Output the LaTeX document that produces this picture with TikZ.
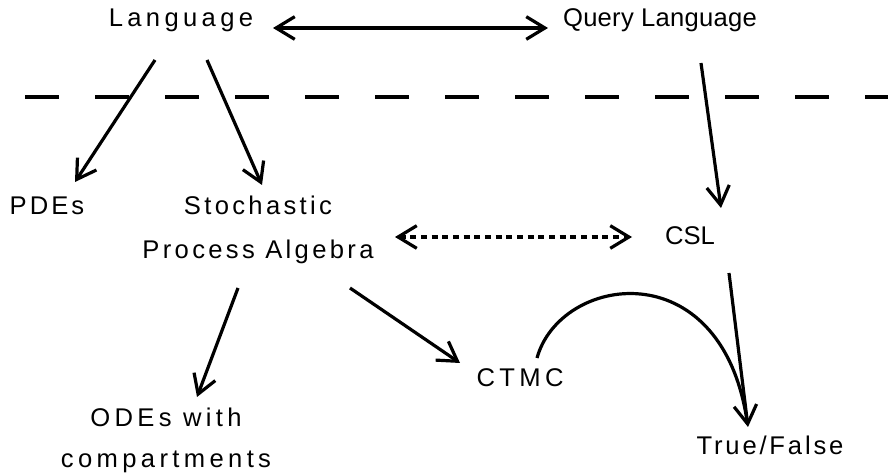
\documentclass[tikz,border=0pt]{standalone}
\usepackage{fontspec}
\setmainfont{Liberation Sans}
\usepackage{tikz}
\usetikzlibrary{arrows.meta,calc}

\tikzset{
    txt/.style={font=\fontsize{19.2}{33}\selectfont\addfontfeature{LetterSpace=#1}, inner sep=0pt, anchor=base, align=center},
    txt/.default=0,
    arr/.style={line width=2.4pt, -{Straight Barb[length=14pt,width=17pt]}},
    twoarr/.style={line width=2.4pt, {Straight Barb[length=14pt,width=17pt]}-{Straight Barb[length=14pt,width=17pt]}}
}

\begin{document}
\begin{tikzpicture}[x=0.75pt,y=-0.75pt]
        \useasboundingbox (0,0) rectangle (888,473);
        % nodes (base = last line)
        \node[txt=17] (lang) at (181,27) {Language};
        \node[txt=1] (query) at (660,27) {Query Language};
        \node[txt=12] (pdes) at (47,215) {PDEs};
        \node[txt=13] (spa) at (258,259) {Stochastic\\Process Algebra};
        \node[txt=0] (csl) at (690,245) {CSL};
        \node[txt=17] (ctmc) at (520,387) {CTMC};
        \node[txt=17] (odes) at (166,467) {ODEs with\\[-2.25pt]compartments};
        \node[txt=11] (tf) at (770,455) {True/False};
        % separator
        \draw[-, line width=3pt, dash pattern=on 25.5pt off 27pt] (25,97) -- (888,97);
        % connectors
        \draw[twoarr] ($(lang.base)+(92,1)$) -- ($(query.base)+(-112,1)$);
        \draw[arr] ($(lang.base)+(-26,33)$) -- ($(pdes.base)+(28,-33)$);
        \draw[arr] ($(lang.base)+(26,33)$) -- ($(spa.base)+(4,-74)$);
        \draw[arr] ($(query.base)+(41,36)$) -- ($(csl.base)+(31,-37)$);
        \draw[twoarr, dash pattern=on 4.5pt off 3.5pt] ($(spa.base)+(137,-22)$) -- ($(csl.base)+(-58,-8)$);
        \draw[arr] ($(spa.base)+(-20,29)$) -- ($(odes.base)+(31,-70)$);
        \draw[arr] ($(spa.base)+(92,29)$) -- ($(ctmc.base)+(-60,-24)$);
        \draw[arr] ($(csl.base)+(39,28)$) -- ($(tf.base)+(-22,-28)$);
        \draw[-, line width=2.4pt, shorten >=6pt] ($(ctmc.base)+(17,-29)$) .. controls ($(ctmc.base)+(40,-112)$) and ($(tf.base)+(-50,-205)$) .. ($(tf.base)+(-22,-28)$);
    \end{tikzpicture}
\end{document}
